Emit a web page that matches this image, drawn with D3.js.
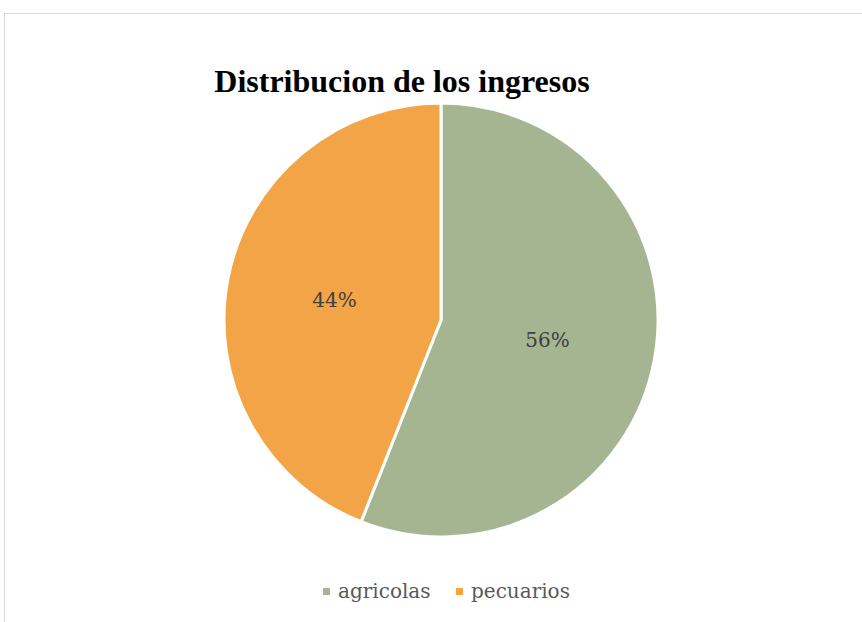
<!DOCTYPE html>
<html>
<head>
<meta charset="utf-8">
<script src="https://cdn.jsdelivr.net/npm/d3@7"></script>
<style>
  body { margin: 0; background: #fff; }
  svg { display: block; }
</style>
</head>
<body>
<svg></svg>
<script>
const categories = ['agricolas', 'pecuarios'];
const values = [56, 44];
const labels = ['56%', '44%'];
const colors = ['#A5B592', '#F3A447'];

const width = 862, height = 622;
const cx = 441, cy = 320, radius = 217;
const bodyFont = '"DejaVu Serif", serif';

const svg = d3.select('svg')
    .attr('width', width)
    .attr('height', height);

// chart frame
svg.append('rect')
    .attr('x', 4.5).attr('y', 13.5)
    .attr('width', width + 10).attr('height', height + 10)
    .attr('fill', '#fff')
    .attr('stroke', '#d9d9d9')
    .attr('stroke-width', 1);

svg.append('text')
    .attr('x', 402).attr('y', 92)
    .attr('text-anchor', 'middle')
    .attr('font-family', '"Liberation Serif", "Times New Roman", serif')
    .attr('font-weight', 'bold')
    .attr('font-size', 32)
    .attr('fill', '#000')
    .text('Distribucion de los ingresos');

const color = d3.scaleOrdinal().domain(categories).range(colors);

const pie = d3.pie().sort(null).value(d => d.value);
const arc = d3.arc().innerRadius(0).outerRadius(radius);

const data = categories.map((c, i) => ({ name: c, value: values[i], label: labels[i] }));

const g = svg.append('g').attr('transform', `translate(${cx},${cy})`);

g.selectAll('path')
    .data(pie(data))
    .join('path')
    .attr('d', arc)
    .attr('fill', d => color(d.data.name))
    .attr('stroke', '#fff')
    .attr('stroke-width', 3);

g.selectAll('text')
    .data(pie(data))
    .join('text')
    .attr('transform', d => `translate(${arc.centroid(d)})`)
    .attr('text-anchor', 'middle')
    .attr('dy', '0.35em')
    .attr('font-family', bodyFont)
    .attr('font-size', 20)
    .attr('fill', '#404040')
    .text(d => d.data.label);

// legend
const legendX = [323, 456];
const items = svg.append('g').selectAll('g')
    .data(data)
    .join('g')
    .attr('transform', (d, i) => `translate(${legendX[i]},591)`);

items.append('rect')
    .attr('x', 0).attr('y', -3)
    .attr('width', 7).attr('height', 7)
    .attr('fill', d => color(d.name));

items.append('text')
    .attr('x', 15).attr('y', 7)
    .attr('font-family', bodyFont)
    .attr('font-size', 20)
    .attr('fill', '#595959')
    .text(d => d.name);
</script>
</body>
</html>
